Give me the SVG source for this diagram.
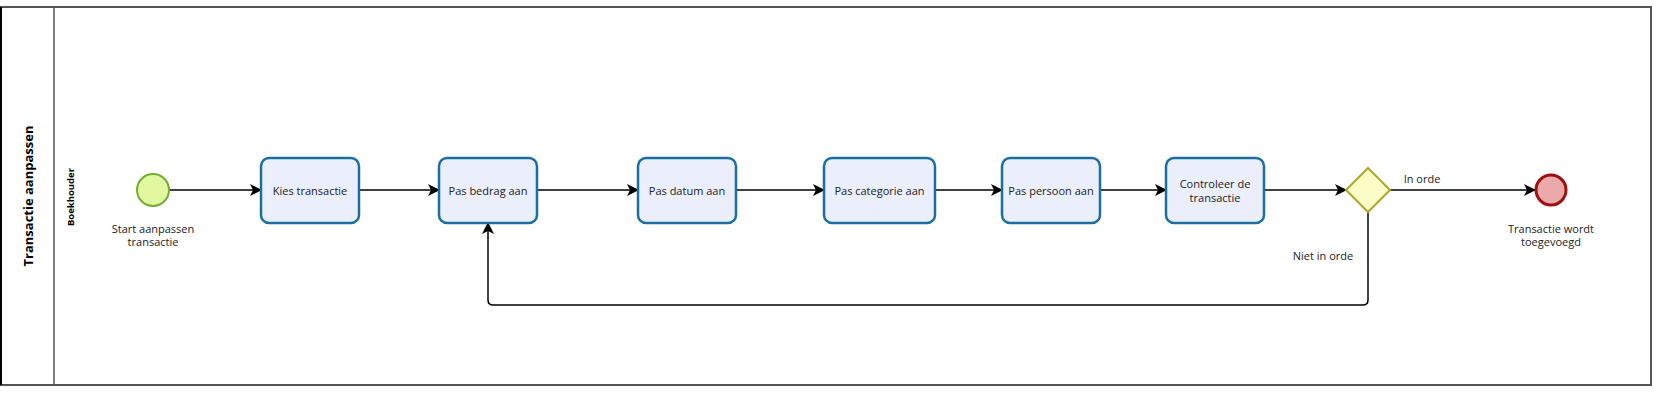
<svg xmlns="http://www.w3.org/2000/svg" width="1658" height="402" viewBox="0 0 1658 402">
<defs>
<style>
.t{font-family:"Open Sans","Liberation Sans",sans-serif;font-size:11px;fill:#222;text-anchor:middle;dominant-baseline:central}
.task{fill:#ebeffc;stroke:#1b6fa0;stroke-width:2.5}
.e{fill:none;stroke:#000;stroke-width:1.5}
</style>
<marker id="a" viewBox="0 0 12 12" refX="11" refY="6" markerWidth="12" markerHeight="12" markerUnits="userSpaceOnUse" orient="auto">
<path d="M0,0 L12,6 L0,12 L3,6 Z" fill="#000"/>
</marker>
</defs>
<rect width="1658" height="402" fill="#fff"/>
<g id="pool">
<rect x="1" y="7" width="1650" height="378" fill="none" stroke="#555" stroke-width="2"/>
<line x1="1" y1="7" x2="1" y2="385" stroke="#000" stroke-width="2"/>
<line x1="54" y1="7" x2="54" y2="385" stroke="#555" stroke-width="1.5"/>
<text transform="translate(28,196) rotate(-90)" style="font-family:'Open Sans','Liberation Sans',sans-serif;font-size:13px;font-weight:bold;text-anchor:middle;dominant-baseline:central">Transactie aanpassen</text>
<text transform="translate(70,197) rotate(-90)" style="font-family:'Open Sans','Liberation Sans',sans-serif;font-size:9.5px;font-weight:bold;text-anchor:middle;dominant-baseline:central">Boekhouder</text>
</g>
<g id="connectors">
<line class="e" x1="169" y1="190" x2="261" y2="190" marker-end="url(#a)"/>
<line class="e" x1="359" y1="190" x2="439" y2="190" marker-end="url(#a)"/>
<line class="e" x1="537" y1="190" x2="638" y2="190" marker-end="url(#a)"/>
<line class="e" x1="736" y1="190" x2="824" y2="190" marker-end="url(#a)"/>
<line class="e" x1="935" y1="190" x2="1002" y2="190" marker-end="url(#a)"/>
<line class="e" x1="1100" y1="190" x2="1166" y2="190" marker-end="url(#a)"/>
<line class="e" x1="1264" y1="190" x2="1346" y2="190" marker-end="url(#a)"/>
<line class="e" x1="1389" y1="190" x2="1535" y2="190" marker-end="url(#a)"/>
<path class="e" d="M1368,212 L1368,300 Q1368,305 1363,305 L493,305 Q488,305 488,300 L488,223" marker-end="url(#a)"/>
<text class="t" x="1422" y="178">In orde</text>
<text class="t" x="1323" y="255">Niet in orde</text>
</g>
<g id="start">
<circle cx="153" cy="190" r="16" fill="#e2f8a0" stroke="#72ad30" stroke-width="2"/>
<text class="t" x="153" y="228">Start aanpassen</text>
<text class="t" x="153" y="241">transactie</text>
</g>
<g id="kies"><rect class="task" x="261" y="158" width="98" height="65" rx="8"/><text class="t" x="310" y="190">Kies transactie</text></g>
<g id="bedrag"><rect class="task" x="439" y="158" width="98" height="65" rx="8"/><text class="t" x="488" y="190">Pas bedrag aan</text></g>
<g id="datum"><rect class="task" x="638" y="158" width="98" height="65" rx="8"/><text class="t" x="687" y="190">Pas datum aan</text></g>
<g id="categorie"><rect class="task" x="824" y="158" width="111" height="65" rx="8"/><text class="t" x="879.5" y="190">Pas categorie aan</text></g>
<g id="persoon"><rect class="task" x="1002" y="158" width="98" height="65" rx="8"/><text class="t" x="1051" y="190">Pas persoon aan</text></g>
<g id="controleer"><rect class="task" x="1166" y="158" width="98" height="65" rx="8"/><text class="t" x="1215" y="183">Controleer de</text><text class="t" x="1215" y="197">transactie</text></g>
<g id="gateway"><polygon points="1368,168 1390,190 1368,212 1346,190" fill="#fcfcc6" stroke="#a8a82a" stroke-width="2"/></g>
<g id="end">
<circle cx="1551" cy="190" r="15" fill="#eca9a9" stroke="#9c1212" stroke-width="3"/>
<text class="t" x="1551" y="228">Transactie wordt</text>
<text class="t" x="1551" y="241">toegevoegd</text>
</g>
</svg>
